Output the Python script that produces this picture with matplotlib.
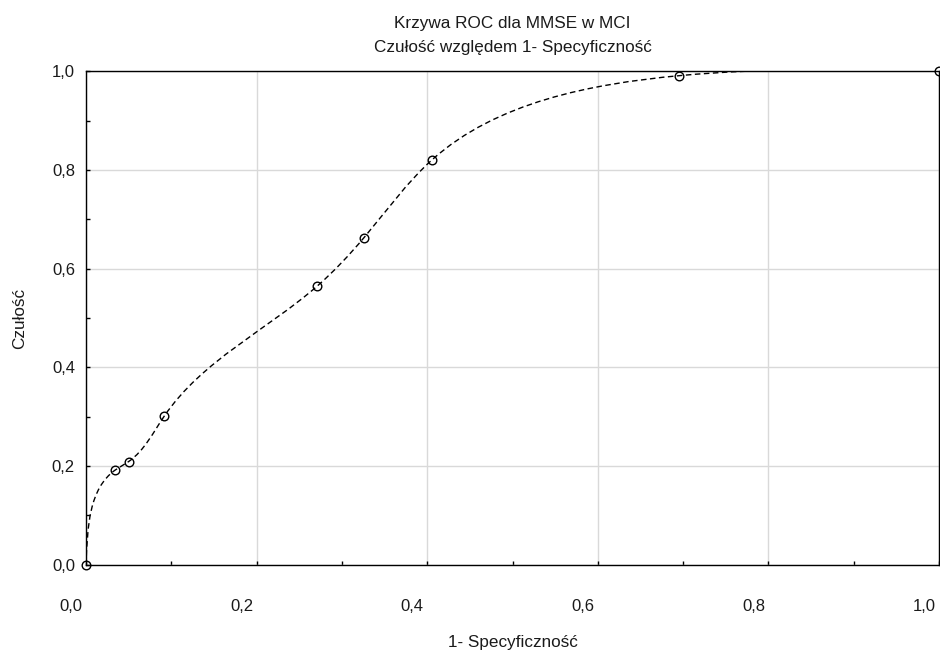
import numpy as np
import matplotlib.pyplot as plt
from matplotlib.path import Path
from matplotlib.patches import PathPatch
from matplotlib.ticker import MultipleLocator, FuncFormatter
from matplotlib.transforms import ScaledTranslation

# Dane (punkty odcięcia krzywej ROC)
fpr = [0.0, 0.0344, 0.050, 0.0917, 0.2713, 0.326, 0.406, 0.6956, 1.0]
tpr = [0.0, 0.192, 0.209, 0.301, 0.565, 0.663, 0.821, 0.991, 1.0]

tytul = "Krzywa ROC dla MMSE w MCI\nCzułość względem 1- Specyficzność"
os_x = "1- Specyficzność"
os_y = "Czułość"
ticki = [0.0, 0.2, 0.4, 0.6, 0.8, 1.0]
kolor_txt = '#1a1a1a'

plt.rcParams['font.family'] = ['Liberation Sans', 'DejaVu Sans']


def pochodne(t, v):
    # pochodne naturalnego splajnu sześciennego w węzłach
    n = len(t)
    h = np.diff(t)
    A = np.zeros((n, n))
    r = np.zeros(n)
    A[0, 0] = A[-1, -1] = 1
    for i in range(1, n - 1):
        A[i, i - 1] = h[i - 1]
        A[i, i] = 2 * (h[i - 1] + h[i])
        A[i, i + 1] = h[i]
        r[i] = 6 * ((v[i + 1] - v[i]) / h[i] - (v[i] - v[i - 1]) / h[i - 1])
    M = np.linalg.solve(A, r)
    m = np.zeros(n)
    m[:-1] = (v[1:] - v[:-1]) / h - h * (2 * M[:-1] + M[1:]) / 6
    m[-1] = (v[-1] - v[-2]) / h[-1] + h[-1] * (M[-2] + 2 * M[-1]) / 6
    return m


fig = plt.figure(figsize=(9.4, 6.51), dpi=100)
ax = fig.add_axes([0.0915, 0.1326, 0.9075, 0.758])

# Parametryczny splajn (parametr = długość cięciwy w skali ekranu) jako ścieżka Béziera
S = np.array([8.52, 4.935])
Q = np.column_stack([fpr, tpr]) * S
t = np.concatenate([[0], np.cumsum(np.linalg.norm(np.diff(Q, axis=0), axis=1))])
h = np.diff(t)
D = np.column_stack([pochodne(t, Q[:, 0]), pochodne(t, Q[:, 1])])
verts = [Q[0]]
codes = [Path.MOVETO]
for i in range(len(Q) - 1):
    verts += [Q[i] + D[i] * h[i] / 3, Q[i + 1] - D[i + 1] * h[i] / 3, Q[i + 1]]
    codes += [Path.CURVE4] * 3
verts = np.array(verts) / S
krzywa = PathPatch(Path(verts, codes), fill=False, edgecolor='black',
                   linewidth=1.0, linestyle=(0, (4, 2.5)), zorder=3)
ax.add_patch(krzywa)

ax.plot(fpr, tpr, linestyle='none', marker='o', markersize=6.2,
        markerfacecolor='none', markeredgecolor='black', markeredgewidth=1.0,
        zorder=4, clip_on=False)

ax.set_xlim(0, 1)
ax.set_ylim(0, 1)
ax.set_xticks(ticki)
ax.set_yticks(ticki)
ax.xaxis.set_minor_locator(MultipleLocator(0.1))
ax.yaxis.set_minor_locator(MultipleLocator(0.1))
fmt = FuncFormatter(lambda v, p: f"{v:.1f}".replace('.', ','))
ax.xaxis.set_major_formatter(fmt)
ax.yaxis.set_major_formatter(fmt)
ax.tick_params(which='both', direction='in', length=3, width=1, color='black',
               labelsize=12, labelcolor=kolor_txt)
ax.tick_params(axis='x', which='major', pad=25)
ax.tick_params(axis='y', which='major', pad=8)
for lab in ax.get_xticklabels():
    lab.set_transform(lab.get_transform() + ScaledTranslation(-0.15, 0, fig.dpi_scale_trans))

ax.grid(True, which='major', color='#d9d9d9', linewidth=1.0)
ax.set_axisbelow(True)
for s in ax.spines.values():
    s.set_color('black')
    s.set_linewidth(1.0)

ax.set_title(tytul, fontsize=12.3, color=kolor_txt, pad=13.5, linespacing=1.8)
ax.set_xlabel(os_x, fontsize=12.3, color=kolor_txt)
ax.xaxis.set_label_coords(0.5, -0.142)
ax.set_ylabel(os_y, fontsize=12.3, color=kolor_txt)
ax.yaxis.set_label_coords(-0.069, 0.5)

fig.savefig('out.png', dpi=100)
